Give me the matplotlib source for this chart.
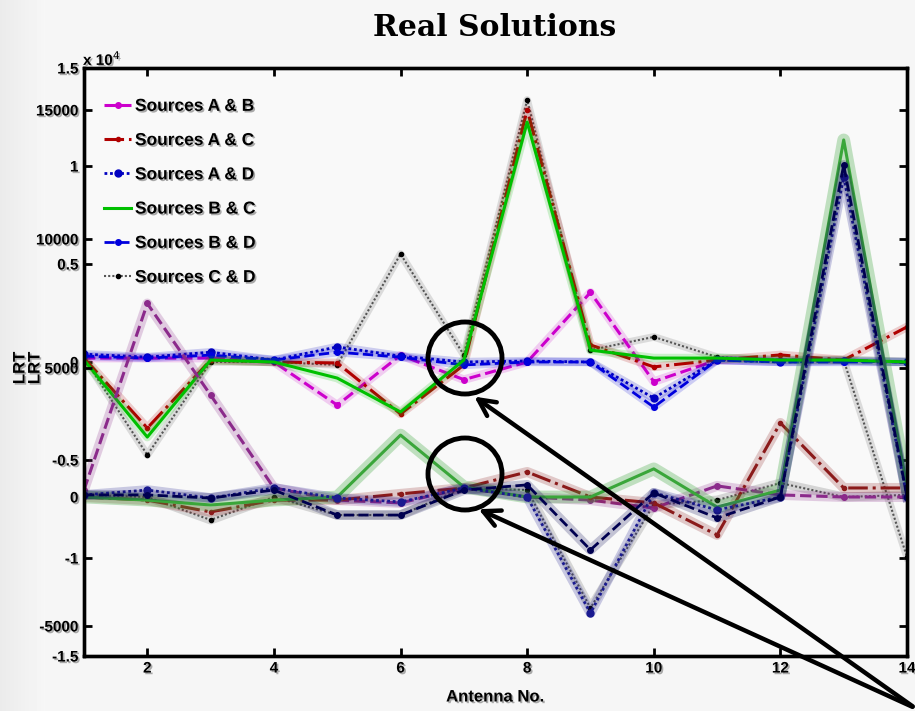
import numpy as np
import matplotlib
matplotlib.use("Agg")
import matplotlib.pyplot as plt
import matplotlib.patheffects as pe
from matplotlib.patches import Ellipse, FancyArrowPatch
from matplotlib.ticker import FuncFormatter

# ---------------- data ----------------
antenna = list(range(1, 15))
series_labels = ["Sources A & B", "Sources A & C", "Sources A & D",
                 "Sources B & C", "Sources B & D", "Sources C & D"]

# upper set (left scale, x 10^4)
up_ab = [200, 200, 200, 0, -2200, 350, -900, 0, 3550, -1000, 100, 100, 100, 0]
up_ac = [200, -3370, 100, 0, -50, -2650, -150, 12860, 870, -250, 100, 360, 100, 1790]
up_ad = [400, 250, 500, 100, 770, 300, 0, 50, 0, -1840, 100, 0, 50, 0]
up_bc = [100, -3830, 100, 0, -820, -2550, 100, 12240, 610, 200, 200, 100, 100, 0]
up_bd = [300, 200, 350, 100, 500, 250, -150, 0, 0, -2300, 100, 0, 0, 0]
up_cd = [200, -4740, 0, 0, -150, 5510, 360, 13370, 610, 1280, 250, 100, 100, -9950]

# lower set (second scale)
lo_ab = [270, 7500, 3950, 350, -120, -230, 350, 0, -120, -430, 430, 80, 0, 0]
lo_ac = [0, -120, -580, -120, -120, 120, 350, 970, 0, -230, -1470, 2870, 350, 350]
lo_ad = [80, 270, -40, 350, -40, -190, 350, 0, -4500, 160, -500, 0, 12400, 0]
lo_bc = [0, -120, -310, -120, 0, 2400, 390, 0, 0, 1090, -390, 270, 13840, 390]
lo_bd = [80, 80, -40, 270, -700, -700, 270, 470, -2050, 160, -810, 0, 12870, 0]
lo_cd = [80, 0, -890, 0, -700, -700, 350, 270, -4300, -300, -120, 540, 0, 80]

left_ticks = [-15000, -10000, -5000, 0, 5000, 10000, 15000]
right_ticks = [-5000, 0, 5000, 10000, 15000]
x_ticks = [2, 4, 6, 8, 10, 12, 14]

W, H = 915, 711
fig = plt.figure(figsize=(W / 100, H / 100), dpi=100, facecolor="#f6f6f6")
grad = np.tile(np.linspace(0.92, 0.965, 45), (H, 1))
fig.figimage(grad, xo=0, yo=0, cmap="gray", vmin=0, vmax=1, zorder=-10)

ax1 = fig.add_axes([84 / W, 55 / H, (907 - 84) / W, (656 - 68) / H])
ax1.set_facecolor("#f9f9f9")
ax1.set_xlim(1, 14)
ax1.set_ylim(-15000, 15000)
ax2 = ax1.twinx()
ax2.set_ylim(-6163, 16628)

shadow = [pe.withSimplePatchShadow(offset=(1.2, -1.2), shadow_rgbFace="#888888", alpha=0.7)]


def draw(ax, y, color, ls, marker, ms, lw, mfc, label=None, halo=4, ha=0.18):
    ax.plot(antenna, y, color=color, ls="-", lw=lw + halo, alpha=ha,
            solid_joinstyle="round")
    ax.plot(antenna, y, color=color, ls=ls, marker=marker, ms=ms, lw=lw,
            mfc=mfc, mec=mfc, label=label)


# upper set
draw(ax1, up_cd, "#555555", (0, (1, 1)), "o", 3, 1.5, "k", series_labels[5])
draw(ax1, up_ab, "#cc00cc", "--", "o", 4, 2.2, "#cc00cc", series_labels[0])
draw(ax1, up_ac, "#b00000", "-.", "o", 3, 2.2, "#b00000", series_labels[1])
draw(ax1, up_ad, "#0000c0", (0, (1, 1)), "o", 5, 2.0, "#0000c0", series_labels[2])
draw(ax1, up_bd, "#0000dd", "--", "o", 4, 2.0, "#0000dd", series_labels[4])
draw(ax1, up_bc, "#00c000", "-", None, 0, 2.2, "#00c000", series_labels[3])

# lower set
draw(ax2, lo_cd, "#555555", (0, (1, 1)), "o", 3, 1.5, "k", halo=5, ha=0.22)
draw(ax2, lo_ab, "#8b2a8b", "--", "o", 4, 2.2, "#8b2a8b", halo=5, ha=0.22)
draw(ax2, lo_ac, "#8b1a1a", "-.", "o", 3, 2.2, "#8b1a1a", halo=5, ha=0.22)
draw(ax2, lo_bc, "#3aa63a", "-", None, 0, 2.2, "#3aa63a", halo=7, ha=0.3)
draw(ax2, lo_ad, "#1a1a90", (0, (1, 1)), "o", 5, 2.0, "#1a1a90", halo=5, ha=0.22)
draw(ax2, lo_bd, "#000050", "--", "o", 4, 2.0, "#000050", halo=5, ha=0.22)

tick_font = dict(family="Liberation Sans", weight="bold", size=11)

ax1.set_xticks(x_ticks)
ax1.set_xticklabels([str(v) for v in x_ticks], **tick_font)
ax1.set_yticks(left_ticks)
ax1.yaxis.set_major_formatter(FuncFormatter(lambda v, p: "%g" % (v / 1e4)))
ax2.set_yticks(right_ticks)
ax2.set_yticklabels([str(v) for v in right_ticks], **tick_font)
for lab in ax1.get_yticklabels():
    lab.set_fontproperties(matplotlib.font_manager.FontProperties(**tick_font))

ax1.tick_params(axis="both", direction="in", length=6, width=2, top=True, right=True, pad=4)
ax2.tick_params(axis="y", direction="in", length=6, width=2, left=True, right=True,
                labelleft=True, labelright=False, pad=4)
for t in ax1.get_xticklabels() + ax1.get_yticklabels() + ax2.get_yticklabels():
    t.set_path_effects(shadow)

for ax in (ax1, ax2):
    for s in ax.spines.values():
        s.set_linewidth(2.4)
        s.set_color("black")

fig.text(83 / W, 1 - 65 / H, "x 10$^4$", fontsize=11, weight="bold",
         family="Liberation Sans", ha="left", va="baseline", path_effects=shadow)

for xx in (20, 35):
    fig.text(xx / W, 1 - 368 / H, "LRT", rotation=90, fontsize=12, weight="bold",
             family="Liberation Sans", ha="center", va="center", path_effects=shadow)

fig.text(495 / W, 1 - 697 / H, "Antenna No.", fontsize=12, weight="bold",
         family="Liberation Sans", ha="center", va="center", path_effects=shadow)

fig.text(495 / W, 1 - 28 / H, "Real Solutions", fontsize=21.5, weight="bold",
         family="DejaVu Serif", ha="center", va="center")

handles, labs = ax1.get_legend_handles_labels()
order = [labs.index(l) for l in series_labels]
leg = ax1.legend([handles[i] for i in order], [labs[i] for i in order],
                 loc="upper left", bbox_to_anchor=(95 / W, 1 - 90 / H),
                 bbox_transform=fig.transFigure, frameon=False, borderpad=0,
                 handlelength=1.6, handletextpad=0.2, labelspacing=1.1,
                 prop=dict(family="Liberation Sans", weight="bold", size=12.5))
for t in leg.get_texts():
    t.set_path_effects(shadow)

# annotation circles and arrows
for cy in (358, 474):
    fig.add_artist(Ellipse((465 / W, 1 - cy / H), 74 / W, 72 / H, transform=fig.transFigure,
                           fill=False, lw=3.5, ec="black", zorder=10))
for tip in ((472, 395), (476, 508)):
    fig.add_artist(FancyArrowPatch((915 / W, 1 - 708 / H), (tip[0] / W, 1 - tip[1] / H),
                                   transform=fig.transFigure, arrowstyle="->",
                                   mutation_scale=30, lw=3.2, color="black", zorder=10))

fig.savefig("out.png", dpi=100, facecolor=fig.get_facecolor())
